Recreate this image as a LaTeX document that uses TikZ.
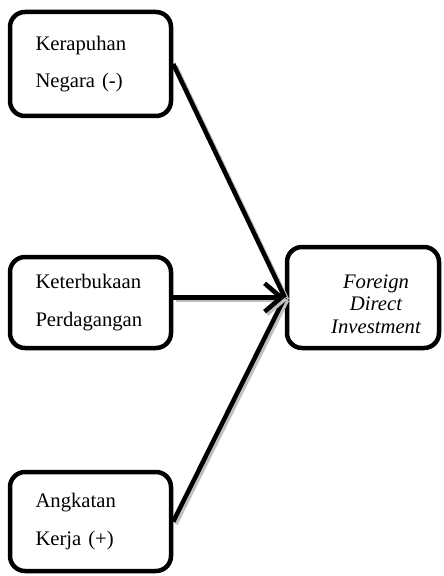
\documentclass[tikz,border=0pt]{standalone}
\usepackage{fontspec}
\setmainfont{Liberation Serif}
\usetikzlibrary{arrows.meta}
\usetikzlibrary{positioning}

\begin{document}
\begin{tikzpicture}[x=0.6pt, y=-0.6pt,
  varbox/.style={draw, line width=2.7pt, rounded corners=9pt, minimum width=96.6pt,
    inner xsep=15pt, text width=66pt, align=left, font=\fontsize{12.4}{22.5}\selectfont},
  link/.style={line width=2.7pt,
    preaction={draw, gray!50, line width=2.7pt, transform canvas={shift={(1.4pt,-1.4pt)}}}}]
\useasboundingbox (0,0) rectangle (443,576);
% variabel bebas
\node[varbox, minimum height=62.4pt] (rapuh) at (90.5,64) {Kerapuhan\\Negara (-)};
\node[varbox, minimum height=54.6pt] (buka) at (90.5,302.5) {Keterbukaan\\Perdagangan};
\node[varbox, minimum height=59.4pt] (kerja) at (90.5,521.5) {Angkatan\\Kerja (+)};
% variabel terikat
\node[draw, line width=2.7pt, rounded corners=9pt, minimum width=91.2pt, minimum height=60.6pt] (fdi) at (363,297.5) {};
\node[align=center, font=\itshape\fontsize{12.4}{13.5}\selectfont] (fdilabel) at (376,304) {Foreign\\Direct\\Investment};
% hubungan
\draw[link] (rapuh.east) -- (fdi.west);
\draw[link] (kerja.east) -- (fdi.west);
\draw[link, -{Straight Barb[length=10pt,width=17pt]}] (buka.east |- fdi.west) -- (fdi.west);
\end{tikzpicture}
\end{document}
